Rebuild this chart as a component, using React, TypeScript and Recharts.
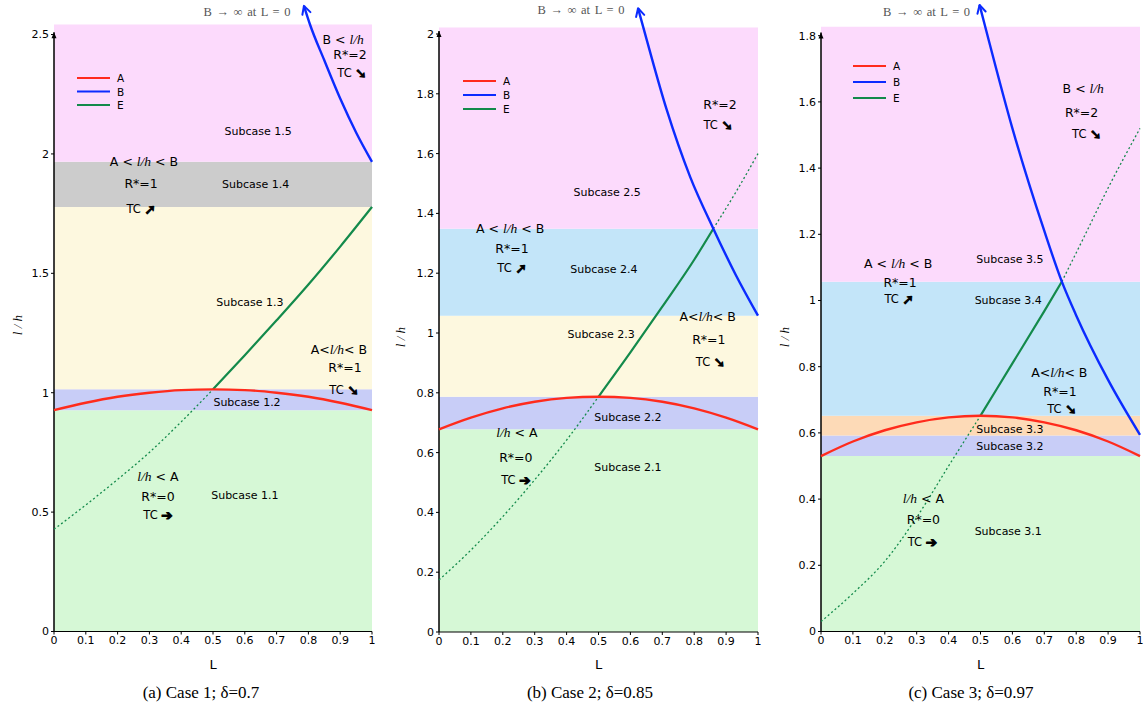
import React from 'react'
import {
  LineChart,
  Line,
  XAxis,
  YAxis,
  ReferenceArea,
  ReferenceDot,
  ReferenceLine,
  Legend
} from 'recharts'

type Pt = { L: number; v: number }
const pts = (rows: number[][]): Pt[] => rows.map(([L, v]) => ({ L, v }))

const lTicks = [0, 0.1, 0.2, 0.3, 0.4, 0.5, 0.6, 0.7, 0.8, 0.9, 1]
const captions = ['(a) Case 1; δ=0.7', '(b) Case 2; δ=0.85', '(c) Case 3; δ=0.97']
const bNote = 'B → ∞ at L = 0'

// Case 1, delta = 0.7
const case1YTicks = [0, 0.5, 1, 1.5, 2, 2.5]
const case1Bands = [0, 0.927, 1.014, 1.778, 1.967, 2.542]
const case1A = pts([[0, 0.927], [0.1, 0.958], [0.2, 0.983], [0.3, 1.0], [0.4, 1.011], [0.5, 1.014], [0.6, 1.011], [0.7, 1.0], [0.8, 0.983], [0.9, 0.958], [1, 0.927]])
const case1B = pts([[0.786, 2.62], [0.805, 2.542], [0.85, 2.392], [0.9, 2.232], [0.95, 2.09], [1, 1.967]])
const case1ELow = pts([[0, 0.428], [0.1, 0.53], [0.2, 0.637], [0.3, 0.75], [0.4, 0.878], [0.5, 1.014]])
const case1EMid = pts([[0.5, 1.014], [0.6, 1.157], [0.7, 1.303], [0.8, 1.453], [0.9, 1.612], [1, 1.778]])
const case1Notes = [
  { L: 0.607, v: 2.594, text: bNote },
  { L: 0.909, v: 2.481, text: 'B < l/h' },
  { L: 0.931, v: 2.419, text: 'R*=2' },
  { L: 0.937, v: 2.34, text: 'TC ➘' },
  { L: 0.642, v: 2.096, text: 'Subcase 1.5' },
  { L: 0.283, v: 1.97, text: 'A < l/h < B' },
  { L: 0.274, v: 1.878, text: 'R*=1' },
  { L: 0.634, v: 1.874, text: 'Subcase 1.4' },
  { L: 0.274, v: 1.771, text: 'TC ➚' },
  { L: 0.616, v: 1.38, text: 'Subcase 1.3' },
  { L: 0.896, v: 1.183, text: 'A<l/h< B' },
  { L: 0.915, v: 1.107, text: 'R*=1' },
  { L: 0.912, v: 1.011, text: 'TC ➘' },
  { L: 0.607, v: 0.961, text: 'Subcase 1.2' },
  { L: 0.327, v: 0.651, text: 'l/h < A' },
  { L: 0.327, v: 0.567, text: 'R*=0' },
  { L: 0.6, v: 0.572, text: 'Subcase 1.1' },
  { L: 0.327, v: 0.488, text: 'TC ➔' }
]

// Case 2, delta = 0.85
const case2YTicks = [0, 0.2, 0.4, 0.6, 0.8, 1, 1.2, 1.4, 1.6, 1.8, 2]
const case2Bands = [0, 0.678, 0.787, 1.058, 1.349, 2.022]
const case2A = pts([[0, 0.678], [0.1, 0.717], [0.2, 0.748], [0.3, 0.77], [0.4, 0.783], [0.5, 0.787], [0.6, 0.783], [0.7, 0.77], [0.8, 0.748], [0.9, 0.717], [1, 0.678]])
const case2B = pts([[0.624, 2.086], [0.64, 2.024], [0.714, 1.746], [0.787, 1.523], [0.86, 1.349], [0.93, 1.195], [1, 1.058]])
const case2ELow = pts([[0, 0.174], [0.1, 0.274], [0.2, 0.386], [0.3, 0.509], [0.4, 0.642], [0.5, 0.787]])
const case2EMid = pts([[0.5, 0.787], [0.6, 0.935], [0.7, 1.088], [0.8, 1.245], [0.86, 1.349]])
const case2EHigh = pts([[0.86, 1.349], [0.93, 1.47], [1, 1.6]])
const case2Notes = [
  { L: 0.445, v: 2.08, text: bNote },
  { L: 0.881, v: 1.766, text: 'R*=2' },
  { L: 0.875, v: 1.696, text: 'TC ➘' },
  { L: 0.527, v: 1.472, text: 'Subcase 2.5' },
  { L: 0.223, v: 1.351, text: 'A < l/h < B' },
  { L: 0.229, v: 1.284, text: 'R*=1' },
  { L: 0.229, v: 1.217, text: 'TC ➚' },
  { L: 0.517, v: 1.214, text: 'Subcase 2.4' },
  { L: 0.508, v: 0.997, text: 'Subcase 2.3' },
  { L: 0.842, v: 1.057, text: 'A<l/h< B' },
  { L: 0.846, v: 0.98, text: 'R*=1' },
  { L: 0.851, v: 0.903, text: 'TC ➘' },
  { L: 0.592, v: 0.719, text: 'Subcase 2.2' },
  { L: 0.244, v: 0.669, text: 'l/h < A' },
  { L: 0.241, v: 0.585, text: 'R*=0' },
  { L: 0.592, v: 0.552, text: 'Subcase 2.1' },
  { L: 0.241, v: 0.508, text: 'TC ➔' }
]

// Case 3, delta = 0.97
const case3YTicks = [0, 0.2, 0.4, 0.6, 0.8, 1, 1.2, 1.4, 1.6, 1.8]
const case3Bands = [0, 0.53, 0.592, 0.652, 1.057, 1.827]
const case3A = pts([[0, 0.53], [0.1, 0.574], [0.2, 0.608], [0.3, 0.632], [0.4, 0.647], [0.5, 0.652], [0.6, 0.647], [0.7, 0.632], [0.8, 0.608], [0.9, 0.574], [1, 0.53]])
const case3B = pts([[0.497, 1.893], [0.514, 1.83], [0.6, 1.52], [0.7, 1.21], [0.755, 1.057], [0.8, 0.955], [0.9, 0.76], [1, 0.594]])
const case3ELow = pts([[0, 0.03], [0.1, 0.115], [0.2, 0.212], [0.3, 0.345], [0.4, 0.5], [0.5, 0.652]])
const case3EMid = pts([[0.5, 0.652], [0.6, 0.81], [0.7, 0.968], [0.755, 1.057]])
const case3EHigh = pts([[0.755, 1.057], [0.82, 1.183], [0.9, 1.34], [1, 1.52]])
const case3Notes = [
  { L: 0.331, v: 1.872, text: bNote },
  { L: 0.822, v: 1.641, text: 'B < l/h' },
  { L: 0.817, v: 1.57, text: 'R*=2' },
  { L: 0.833, v: 1.502, text: 'TC ➘' },
  { L: 0.592, v: 1.124, text: 'Subcase 3.5' },
  { L: 0.242, v: 1.114, text: 'A < l/h < B' },
  { L: 0.248, v: 1.055, text: 'R*=1' },
  { L: 0.245, v: 1.004, text: 'TC ➚' },
  { L: 0.587, v: 1.002, text: 'Subcase 3.4' },
  { L: 0.747, v: 0.783, text: 'A<l/h< B' },
  { L: 0.749, v: 0.727, text: 'R*=1' },
  { L: 0.755, v: 0.672, text: 'TC ➘' },
  { L: 0.592, v: 0.611, text: 'Subcase 3.3' },
  { L: 0.592, v: 0.561, text: 'Subcase 3.2' },
  { L: 0.321, v: 0.402, text: 'l/h < A' },
  { L: 0.321, v: 0.339, text: 'R*=0' },
  { L: 0.318, v: 0.271, text: 'TC ➔' },
  { L: 0.587, v: 0.305, text: 'Subcase 3.1' }
]

const GREEN_BG = '#d6f8d6'
const LAVENDER = '#c8cdf7'
const CREAM = '#fdf8df'
const GRAY = '#cccccc'
const PINK = '#fcdafc'
const SKY = '#c3e5f9'
const PEACH = '#fddab7'

const RED = '#ff2b1c'
const BLUE = '#0b2bff'
const EGREEN = '#138a4b'
const SANS = '"DejaVu Sans", sans-serif'
const SERIF = '"Liberation Serif", serif'

const panels = [
  {
    left: 0, yWidth: 54, right: 8, top: 1.1, bottom: 47.5, yMax: 2.64, axisTop: 2.51,
    yTicks: case1YTicks, bands: case1Bands, fills: [GREEN_BG, LAVENDER, CREAM, GRAY, PINK],
    a: case1A, b: case1B, eLow: case1ELow, eMid: case1EMid, eHigh: null as Pt[] | null,
    notes: case1Notes, legend: { left: 77, top: 72, gap: 13.5 }, yLabelX: 17, yLabelY: 325,
    caption: captions[0], captionX: 201
  },
  {
    left: 384, yWidth: 55, right: 6, top: 4.1, bottom: 47, yMax: 2.1, axisTop: 2.01,
    yTicks: case2YTicks, bands: case2Bands, fills: [GREEN_BG, LAVENDER, CREAM, SKY, PINK],
    a: case2A, b: case2B, eLow: case2ELow, eMid: case2EMid, eHigh: case2EHigh,
    notes: case2Notes, legend: { left: 79, top: 75, gap: 14 }, yLabelX: 16, yLabelY: 337,
    caption: captions[1], captionX: 590
  },
  {
    left: 766, yWidth: 55, right: 6, top: 2.6, bottom: 47.5, yMax: 1.9, axisTop: 1.81,
    yTicks: case3YTicks, bands: case3Bands, fills: [GREEN_BG, LAVENDER, PEACH, SKY, PINK],
    a: case3A, b: case3B, eLow: case3ELow, eMid: case3EMid, eHigh: case3EHigh,
    notes: case3Notes, legend: { left: 87, top: 60, gap: 16 }, yLabelX: 18, yLabelY: 337,
    caption: captions[2], captionX: 971
  }
]

const ArrowDot = (p: any) => {
  if (p.index !== 0) return <g key={`d${p.index}`} />
  let dx = 0.4
  let dy = 1
  if (p.points && p.points.length > 1) {
    dx = p.points[1].x - p.points[0].x
    dy = p.points[1].y - p.points[0].y
  }
  const len = Math.hypot(dx, dy) || 1
  const ux = dx / len
  const uy = dy / len
  const a = (28 * Math.PI) / 180
  const s = 9
  const w1x = (ux * Math.cos(a) - uy * Math.sin(a)) * s
  const w1y = (ux * Math.sin(a) + uy * Math.cos(a)) * s
  const w2x = (ux * Math.cos(-a) - uy * Math.sin(-a)) * s
  const w2y = (ux * Math.sin(-a) + uy * Math.cos(-a)) * s
  return (
    <g key="d0">
      <polyline
        points={`${p.cx + w1x},${p.cy + w1y} ${p.cx},${p.cy} ${p.cx + w2x},${p.cy + w2y}`}
        fill="none"
        stroke={p.stroke}
        strokeWidth={2}
        strokeLinecap="round"
        strokeLinejoin="round"
      />
    </g>
  )
}

const NoteText = ({ cx, cy, text }: { cx: number; cy: number; text: string }) => {
  if (text === bNote) {
    return (
      <text x={cx} y={cy} textAnchor="middle" dominantBaseline="central" fontFamily={SERIF} fontSize={12.5} fill="#555" wordSpacing={1.5}>
        {text}
      </text>
    )
  }
  const size = text.startsWith('Subcase') ? 11 : text.startsWith('TC') ? 11.5 : 12.5
  if (text.startsWith('TC')) {
    return (
      <text x={cx} y={cy} textAnchor="middle" dominantBaseline="central" fontFamily={SANS} fontSize={size} fill="#000">
        <tspan>TC </tspan>
        <tspan fontWeight="bold" fontSize={13.5} stroke="#000" strokeWidth={1.1} strokeLinejoin="round">
          {text.slice(3)}
        </tspan>
      </text>
    )
  }
  const parts = text.split('l/h')
  return (
    <text x={cx} y={cy} textAnchor="middle" dominantBaseline="central" fontFamily={SANS} fontSize={size} fill="#000">
      {parts.map((part, i) => (
        <React.Fragment key={i}>
          {i > 0 && (
            <tspan fontFamily={SERIF} fontStyle="italic" fontSize={size + 1}>
              l/h
            </tspan>
          )}
          {part && <tspan>{part}</tspan>}
        </React.Fragment>
      ))}
    </text>
  )
}

const legendOrder = ['A', 'B', 'E']

const makeLegend = (gap: number) => (props: any) => {
  const items = (props.payload || [])
    .filter((it: any) => legendOrder.includes(it.value))
    .sort((x: any, y: any) => legendOrder.indexOf(x.value) - legendOrder.indexOf(y.value))
  return (
    <svg width={60} height={gap * 3 + 4}>
      {items.map((it: any, i: number) => (
        <g key={it.value}>
          <line x1={0} x2={33} y1={6 + i * gap} y2={6 + i * gap} stroke={it.color} strokeWidth={2.2} />
          <text x={40} y={6 + i * gap} dominantBaseline="central" fontFamily={SANS} fontSize={10.5} fill="#000">
            {it.value}
          </text>
        </g>
      ))}
    </svg>
  )
}

const Panel = ({ cfg }: { cfg: (typeof panels)[number] }) => {
  const yLabel = () => {
    const x = cfg.yLabelX
    const y = cfg.yLabelY
    return (
      <text x={x} y={y} transform={`rotate(-90 ${x} ${y})`} textAnchor="middle" dominantBaseline="central" fontFamily={SERIF} fontStyle="italic" fontSize={13} fill="#000">
        l / h
      </text>
    )
  }
  const xLabel = (props: any) => {
    const vb = props.viewBox || {}
    return (
      <text x={vb.x + vb.width / 2} y={664} textAnchor="middle" dominantBaseline="central" fontFamily={SANS} fontSize={13} fill="#000">
        L
      </text>
    )
  }
  return (
    <div style={{ position: 'absolute', left: cfg.left, top: 0, width: 380, height: 709 }}>
      <LineChart width={380} height={709} margin={{ top: cfg.top, right: cfg.right, bottom: cfg.bottom, left: 0 }}>
        <XAxis
          type="number"
          dataKey="L"
          domain={[0, 1]}
          ticks={lTicks}
          height={30}
          tickSize={3}
          axisLine={{ stroke: '#000', strokeWidth: 1.2 }}
          tickLine={{ stroke: '#000' }}
          tick={{ fill: '#000', fontSize: 11, fontFamily: SANS }}
          label={xLabel}
        />
        <YAxis
          type="number"
          dataKey="v"
          domain={[0, cfg.yMax]}
          ticks={cfg.yTicks}
          width={cfg.yWidth}
          tickSize={3}
          axisLine={false}
          tickLine={{ stroke: '#000' }}
          tick={{ fill: '#000', fontSize: 11, fontFamily: SANS }}
          label={yLabel}
        />
        {cfg.fills.map((fill, i) => (
          <ReferenceArea
            key={i}
            x1={0}
            x2={1}
            y1={cfg.bands[i]}
            y2={cfg.bands[i + 1]}
            fill={fill}
            fillOpacity={1}
            stroke="none"
          />
        ))}
        <ReferenceLine segment={[{ x: 0, y: 0 }, { x: 0, y: cfg.axisTop }]} stroke="#000" strokeWidth={1.5} />
        <ReferenceDot
          x={0}
          y={cfg.axisTop}
          r={0}
          shape={(p: any) => (
            <polygon points={`${p.cx - 2.5},${p.cy + 6} ${p.cx},${p.cy} ${p.cx + 2.5},${p.cy + 6}`} fill="#000" />
          )}
        />
        <Line data={cfg.eLow} dataKey="v" type="monotone" stroke={EGREEN} strokeWidth={1.3} strokeDasharray="2 2.5" dot={false} legendType="none" isAnimationActive={false} />
        <Line data={cfg.eMid} dataKey="v" name="E" type="monotone" stroke={EGREEN} strokeWidth={2.2} dot={false} isAnimationActive={false} />
        {cfg.eHigh && (
          <Line data={cfg.eHigh} dataKey="v" type="monotone" stroke={EGREEN} strokeWidth={1.3} strokeDasharray="2 2.5" dot={false} legendType="none" isAnimationActive={false} />
        )}
        <Line data={cfg.a} dataKey="v" name="A" type="monotone" stroke={RED} strokeWidth={2.4} dot={false} isAnimationActive={false} />
        <Line data={cfg.b} dataKey="v" name="B" type="monotone" stroke={BLUE} strokeWidth={2.4} dot={ArrowDot} isAnimationActive={false} />
        {cfg.notes.map((n, i) => (
          <ReferenceDot
            key={`n${i}`}
            x={n.L}
            y={n.v}
            r={0}
            shape={(p: any) => <NoteText cx={p.cx} cy={p.cy} text={n.text} />}
          />
        ))}
        <Legend
          layout="horizontal"
          verticalAlign="middle"
          align="center"
          wrapperStyle={{ left: cfg.legend.left, top: cfg.legend.top, width: 60, height: cfg.legend.gap * 3 + 4 }}
          content={makeLegend(cfg.legend.gap)}
        />
      </LineChart>
    </div>
  )
}

export default function App() {
  return (
    <div style={{ position: 'absolute', left: 0, top: 0, width: 1146, height: 709, background: '#fff' }}>
      {panels.map((cfg, i) => (
        <Panel key={i} cfg={cfg} />
      ))}
      {panels.map((cfg, i) => (
        <div
          key={`c${i}`}
          style={{
            position: 'absolute',
            left: cfg.captionX - 110,
            width: 220,
            top: 682,
            textAlign: 'center',
            fontFamily: SERIF,
            fontSize: 17,
            lineHeight: '22px',
            color: '#000'
          }}
        >
          {cfg.caption}
        </div>
      ))}
    </div>
  )
}
